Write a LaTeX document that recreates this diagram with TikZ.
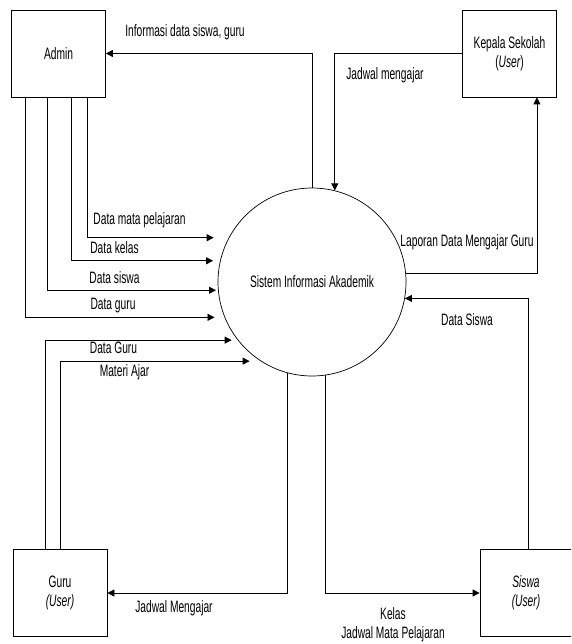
\documentclass[tikz,border=0pt]{standalone}
\usepackage{fontspec}
\setmainfont{Liberation Sans}[FakeStretch=0.62]
\usetikzlibrary{arrows.meta}
\tikzset{
  entitas/.style={draw,line width=0.8pt,minimum width=94pt,minimum height=87pt,align=center,inner sep=0pt},
  proses/.style={draw,circle,line width=0.7pt,minimum size=188pt,inner sep=0pt},
  alur/.style={-{Triangle[length=7pt,width=7pt]},line width=0.8pt},
  ket/.style={inner sep=0pt}
}
\begin{document}
\begin{tikzpicture}[x=1pt,y=-1pt,font=\fontsize{16.5}{19}\selectfont]
    \clip (0,0) rectangle (571,644);
    \node[entitas] (admin) at (58.5,53.5) {Admin};
    \node[entitas] (kepala) at (509.5,53.5) {Kepala Sekolah\\({\itshape User})};
    \node[entitas] (guru) at (60,593) {Guru\\{\itshape (User)}};
    \node[entitas,minimum width=92pt] (siswa) at (526,593) {{\itshape Siswa}\\{\itshape (User)}};
    \node[proses] (sia) at (312,282) {Sistem Informasi Akademik};

    \draw[alur] (sia.north) |- (admin.east);
    \draw[alur] (kepala.west) -| (sia.76);
    \draw[alur] (sia.5) -| ([xshift=-20pt]kepala.south east);
    \draw[alur] ([xshift=2pt]siswa.north) |- (sia.-10);
    \draw[alur] (sia.-82) |- (siswa.west);
    \draw[alur] (sia.-105) |- (guru.east);
    \draw[alur,shorten >=6pt] ([xshift=-15pt]guru.north) |- (sia.218);
    \draw[alur,shorten >=11pt] (guru.north) |- (sia.237);
    \draw[alur,shorten >=15pt] ([xshift=28.5pt]admin.south) |- (sia.152);
    \draw[alur,shorten >=7pt] ([xshift=12.5pt]admin.south) |- (sia.167);
    \draw[alur,shorten >=2pt] ([xshift=-11.5pt]admin.south) |- (sia.185);
    \draw[alur,shorten >=10pt] ([xshift=-33.5pt]admin.south) |- (sia.202.5);

    \node[ket] (tinfo) at (185,32) {Informasi data siswa, guru};
    \node[ket] (tjadwalk) at (385,75) {Jadwal mengajar};
    \node[ket] (tlaporan) at (467,242) {Laporan Data Mengajar Guru};
    \node[ket] (tdsiswa) at (467,320) {Data Siswa};
    \node[ket] (tmapel) at (139.5,220) {Data mata pelajaran};
    \node[ket] (tkelas) at (114.5,248) {Data kelas};
    \node[ket] (tsiswa) at (114.5,278) {Data siswa};
    \node[ket] (tguru) at (113,306) {Data guru};
    \node[ket] (tdguru) at (113.5,348) {Data Guru};
    \node[ket] (tmateri) at (124.5,372) {Materi Ajar};
    \node[ket] (tjadwalg) at (174,608) {Jadwal Mengajar};
    \node[ket,align=center] (tjadwals) at (393,625) {Kelas\\Jadwal Mata Pelajaran};
\end{tikzpicture}
\end{document}
